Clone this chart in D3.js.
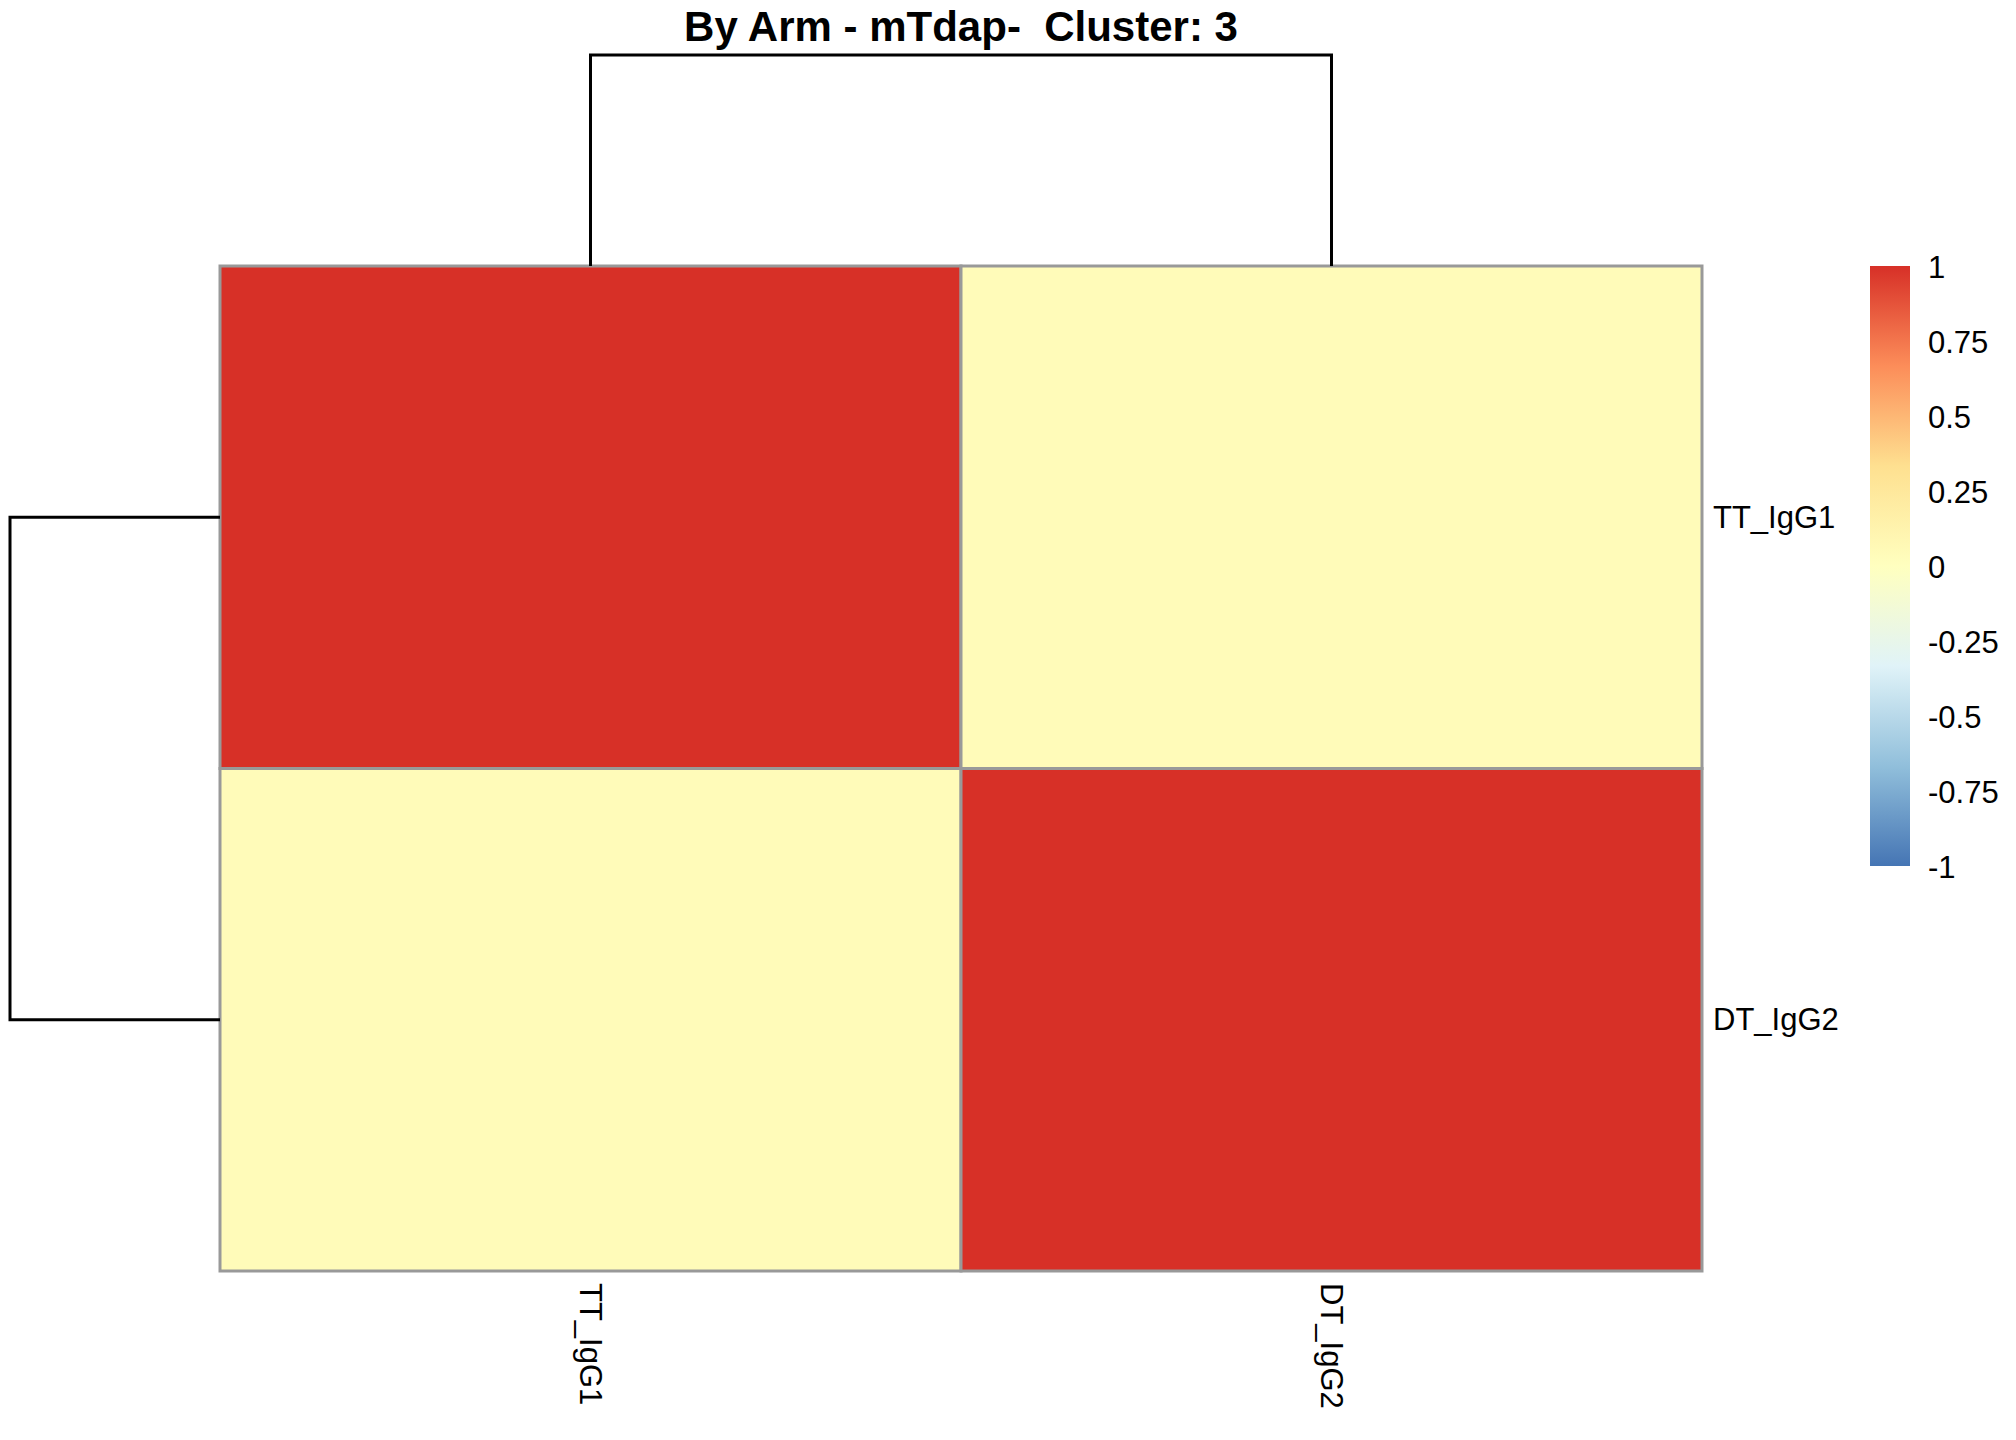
<!DOCTYPE html>
<html>
<head>
<meta charset="utf-8">
<script src="https://cdn.jsdelivr.net/npm/d3@7"></script>
<style>
  body { margin: 0; background: #fff; }
  text { font-family: "Liberation Sans", Arial, sans-serif; }
</style>
</head>
<body>
<div id="vis"></div>
<script>
const FRAME_WIDTH = 2016;
const FRAME_HEIGHT = 1440;
const MARGINS = {left: 220, right: 314, top: 266, bottom: 169};

const title = "By Arm - mTdap-  Cluster: 3";
const rowNames = ["TT_IgG1", "DT_IgG2"];
const colNames = ["TT_IgG1", "DT_IgG2"];
// correlation matrix, row by row
const values = [
  [1, 0.04],
  [0.04, 1]
];
// both dendrograms join the two leaves at one height
const mergeHeight = 1;
const legendTicks = [1, 0.75, 0.5, 0.25, 0, -0.25, -0.5, -0.75, -1];
const paletteColors = ["#4575B4", "#91BFDB", "#E0F3F8", "#FFFFBF", "#FEE090", "#FC8D59", "#D73027"];

const VIS_WIDTH = FRAME_WIDTH - MARGINS.left - MARGINS.right;
const VIS_HEIGHT = FRAME_HEIGHT - MARGINS.top - MARGINS.bottom;

const FRAME1 = d3.select("#vis")
  .append("svg")
    .attr("width", FRAME_WIDTH)
    .attr("height", FRAME_HEIGHT);

const X_SCALE = d3.scaleBand().domain(colNames).range([MARGINS.left, MARGINS.left + VIS_WIDTH]);
const Y_SCALE = d3.scaleBand().domain(rowNames).range([MARGINS.top, MARGINS.top + VIS_HEIGHT]);

// red-yellow-blue ramp from -1 to 1
const COLOR = d3.scaleLinear()
  .domain(d3.range(paletteColors.length).map(i => -1 + 2 * i / (paletteColors.length - 1)))
  .range(paletteColors)
  .interpolate(d3.interpolateRgb);

// cells
const cells = [];
rowNames.forEach((r, i) => colNames.forEach((c, j) => cells.push({row: r, col: c, v: values[i][j]})));

FRAME1.selectAll(".cell")
  .data(cells)
  .enter()
  .append("rect")
    .attr("x", d => X_SCALE(d.col))
    .attr("y", d => Y_SCALE(d.row))
    .attr("width", X_SCALE.bandwidth())
    .attr("height", Y_SCALE.bandwidth())
    .attr("fill", d => COLOR(d.v))
    .attr("stroke", "#999999")
    .attr("stroke-width", 3);

// top dendrogram
const TOP_H = d3.scaleLinear().domain([0, mergeHeight]).range([MARGINS.top, 55]);
const cx = colNames.map(c => X_SCALE(c) + X_SCALE.bandwidth() / 2);
FRAME1.append("path")
  .attr("d", `M${cx[0]},${TOP_H(0)}V${TOP_H(mergeHeight)}H${cx[1]}V${TOP_H(0)}`)
  .attr("fill", "none")
  .attr("stroke", "#000")
  .attr("stroke-width", 3);

// left dendrogram
const LEFT_H = d3.scaleLinear().domain([0, mergeHeight]).range([MARGINS.left, 10]);
const ry = rowNames.map(r => Y_SCALE(r) + Y_SCALE.bandwidth() / 2);
FRAME1.append("path")
  .attr("d", `M${LEFT_H(0)},${ry[0]}H${LEFT_H(mergeHeight)}V${ry[1]}H${LEFT_H(0)}`)
  .attr("fill", "none")
  .attr("stroke", "#000")
  .attr("stroke-width", 3);

// row labels
FRAME1.selectAll(".rowlab")
  .data(rowNames)
  .enter()
  .append("text")
    .attr("x", MARGINS.left + VIS_WIDTH + 11)
    .attr("y", d => Y_SCALE(d) + Y_SCALE.bandwidth() / 2)
    .attr("dominant-baseline", "central")
    .attr("font-size", "31px")
    .text(d => d);

// column labels, rotated
FRAME1.selectAll(".collab")
  .data(colNames)
  .enter()
  .append("text")
    .attr("transform", d => `translate(${X_SCALE(d) + X_SCALE.bandwidth() / 2},${MARGINS.top + VIS_HEIGHT + 12}) rotate(90)`)
    .attr("dominant-baseline", "central")
    .attr("font-size", "31px")
    .text(d => d);

// title
FRAME1.append("text")
  .attr("x", MARGINS.left + VIS_WIDTH / 2)
  .attr("y", 41)
  .attr("text-anchor", "middle")
  .attr("font-size", "42px")
  .attr("font-weight", "bold")
  .style("white-space", "pre")
  .text(title);

// legend
const LEG_X = 1870, LEG_W = 40;
const LEG_SCALE = d3.scaleLinear().domain([1, -1]).range([266, 866]);

const grad = FRAME1.append("defs").append("linearGradient")
  .attr("id", "leg")
  .attr("x1", 0).attr("y1", 1).attr("x2", 0).attr("y2", 0);
grad.selectAll("stop")
  .data(COLOR.domain())
  .enter()
  .append("stop")
    .attr("offset", d => (d + 1) / 2)
    .attr("stop-color", d => COLOR(d));

FRAME1.append("rect")
  .attr("x", LEG_X)
  .attr("y", LEG_SCALE(1))
  .attr("width", LEG_W)
  .attr("height", LEG_SCALE(-1) - LEG_SCALE(1))
  .attr("fill", "url(#leg)");

FRAME1.selectAll(".legtick")
  .data(legendTicks)
  .enter()
  .append("text")
    .attr("x", LEG_X + LEG_W + 18)
    .attr("y", d => LEG_SCALE(d) + 1)
    .attr("dominant-baseline", "central")
    .attr("font-size", "31px")
    .text(d => String(d));
</script>
</body>
</html>
